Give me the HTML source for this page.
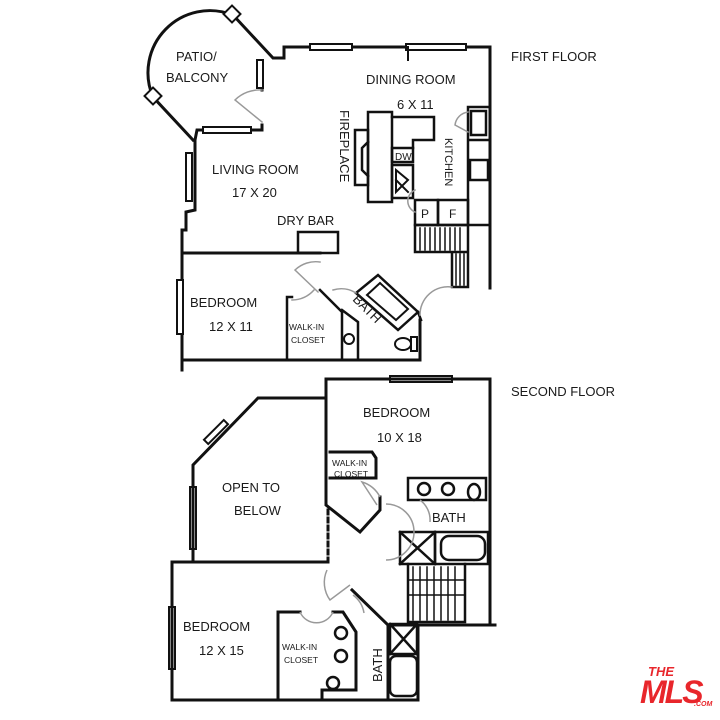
<!DOCTYPE html>
<html><head><meta charset="utf-8"><style>
html,body{margin:0;padding:0;background:#fff;}
svg{display:block}
text{font-family:"Liberation Sans",sans-serif;}
</style></head><body>
<svg width="720" height="720" viewBox="0 0 720 720" xmlns="http://www.w3.org/2000/svg">
<g stroke="#111" stroke-width="3" fill="none" stroke-linecap="square">
<path d="M233,15 L273,58 L273,58 L284,58 L284,47 L490,47 L490,288"/>
<path d="M233,15 A62,62 0 0 0 153,97 L193,140"/>
<path d="M262,62 L262,90"/>
<path d="M262,125 L262,130 L197,130 L195,140 L195,210 L186,212 L186,230 L182,230 L182,360 L420,360 L420,320"/>
<path d="M182,253 L320,253"/>
<path d="M182,360 L182,370"/>
<rect x="226" y="8" width="12" height="12" transform="rotate(45 232 14)" stroke-width="2" fill="#fff"/>
<rect x="147" y="90" width="12" height="12" transform="rotate(45 153 96)" stroke-width="2" fill="#fff"/>
<g stroke-width="2" fill="#fff">
<rect x="310" y="44" width="42" height="6"/>
<rect x="406" y="44" width="60" height="6"/>
<rect x="257" y="60" width="6" height="28"/>
<rect x="203" y="127" width="48" height="6"/>
<rect x="186" y="153" width="6" height="48"/>
<rect x="177" y="280" width="6" height="54"/>
<rect x="390" y="376" width="62" height="6"/>
<rect x="213" y="418" width="6" height="28" transform="rotate(45 216 432)"/>
<rect x="190" y="487" width="6" height="62"/>
<rect x="169" y="607" width="6" height="62"/>
</g>
<path d="M408,47 L408,60" stroke-width="2"/>
<g stroke-width="2.5">
<rect x="368" y="112" width="24" height="90"/>
<path d="M392,117 L434,117 L434,140 L413,140 L413,148"/>
<rect x="355" y="130" width="13" height="55"/>
<path d="M368,142 L362,148 L362,170 L368,176"/>
<rect x="392" y="148" width="21" height="14"/>
<rect x="392" y="165" width="21" height="33"/>
<path d="M396,170 L396,192 L408,180 Z M396,180 L408,192" stroke-width="2"/>
<path d="M468,107 L490,107 M468,107 L468,225 M468,140 L490,140 M468,225 L490,225"/>
<rect x="471" y="111" width="15" height="24"/>
<rect x="470" y="160" width="18" height="20"/>
<rect x="415" y="200" width="23" height="25"/>
<rect x="438" y="200" width="30" height="25"/>
<path d="M415,225 L468,225 L468,252 L415,252 L415,225 M452,252 L452,287 L468,287 L468,252"/>
<path d="M420,228 V250 M425,228 V250 M430,228 V250 M435,228 V250 M440,228 V250 M445,228 V250 M450,228 V250 M455,228 V250 M460,228 V250 M456,254 V285 M460,254 V285 M464,254 V285" stroke-width="1.5"/>
<rect x="298" y="232" width="40" height="21"/>
<path d="M287,360 L287,297 L292,297"/>
<path d="M320,290 L342,312 L342,358 M342,310 L358,322 L358,358"/>
<path d="M378,275 L418,312 L398,330 L356,293 Z"/>
<path d="M380,283 L408,309 L396,320 L367,295 Z" stroke-width="2"/>
<circle cx="349" cy="339" r="5" stroke-width="2"/>
<ellipse cx="403" cy="344" rx="8" ry="6" stroke-width="2"/>
<rect x="411" y="337" width="6" height="14" stroke-width="2"/>
<path d="M418,312 L421,320"/>
</g>
<g stroke="#999" stroke-width="1.5" fill="none">
<path d="M262,90 A35,35 0 0 0 235,100 L262,122"/>
<path d="M320,262 A30,30 0 0 0 295,270 L318,292"/>
<path d="M292,300 A30,30 0 0 0 314,290"/>
<path d="M333,290 A28,28 0 0 1 356,293"/>
<path d="M420,315 A28,28 0 0 1 452,287"/>
<path d="M415,190 A12,12 0 0 0 415,212"/>
<path d="M468,112 A15,15 0 0 0 455,125 L468,132"/>
</g>
</g>
<g stroke="#111" stroke-width="3" fill="none" stroke-linecap="square">
<path d="M326,379 L490,379 L490,625 M486,625 L495,625"/>
<path d="M326,379 L326,505 L360,532 L380,510 L380,497"/>
<path d="M326,398 L258,398 L193,465 L193,562 M172,562 L328,562"/>
<path d="M328,510 L328,562" stroke-dasharray="4,4"/>
<path d="M172,562 L172,700 L418,700 L418,625 L495,625"/>
<path d="M330,452 L372,452 L376,458 L376,478 L330,478"/>
<path d="M278,700 L278,612 L300,612 M333,612 L343,612 L356,632 L356,690 L322,690 L322,700"/>
<path d="M352,590 L388,625 L388,700"/>
<path d="M388,625 L418,625"/>
<g stroke-width="2.5">
<rect x="408" y="478" width="78" height="22"/>
<circle cx="424" cy="489" r="6"/><circle cx="448" cy="489" r="6"/>
<ellipse cx="474" cy="492" rx="6" ry="8"/>
<rect x="400" y="532" width="35" height="32"/>
<path d="M400,532 L435,564 M435,532 L400,564"/>
<rect x="435" y="532" width="53" height="32"/>
<rect x="441" y="536" width="44" height="24" rx="8"/>
<path d="M408,564 L408,622 L465,622 L465,564"/>
<rect x="390" y="624" width="27" height="30"/>
<path d="M390,624 L417,654 M417,624 L390,654"/>
<rect x="390" y="656" width="27" height="40" rx="6"/>
<circle cx="341" cy="633" r="6"/><circle cx="341" cy="656" r="6"/>
<ellipse cx="333" cy="683" rx="6" ry="6"/>
</g>
<path d="M413,567 V620 M420,567 V620 M427,567 V620 M434,567 V620 M441,567 V620 M448,567 V620 M455,567 V620 M408,580 H465 M408,595 H465" stroke-width="1.5"/>
</g>
<g stroke="#999" stroke-width="1.5" fill="none">
<path d="M380,497 A30,30 0 0 0 362,482 L377,505"/>
<path d="M386,504 A28,28 0 0 1 386,560"/>
<path d="M327,570 A30,30 0 0 0 330,600 L350,585"/>
<path d="M353,595 A28,28 0 0 1 364,613"/>
<path d="M300,612 A18,18 0 0 0 333,612"/>
<path d="M420,500 A25,25 0 0 1 430,522"/>
</g>
<g font-size="13" fill="#1a1a1a" stroke="none">
<text x="176" y="61">PATIO/</text>
<text x="166" y="82">BALCONY</text>
<text x="366" y="84">DINING ROOM</text>
<text x="397" y="109">6 X 11</text>
<text x="212" y="174">LIVING ROOM</text>
<text x="232" y="197">17 X 20</text>
<text x="277" y="225">DRY BAR</text>
<text x="190" y="307">BEDROOM</text>
<text x="209" y="331">12 X 11</text>
<text x="511" y="61">FIRST FLOOR</text>
<text x="511" y="396">SECOND FLOOR</text>
<text x="363" y="417">BEDROOM</text>
<text x="377" y="442">10 X 18</text>
<text x="222" y="492">OPEN TO</text>
<text x="234" y="515">BELOW</text>
<text x="432" y="522">BATH</text>
<text x="183" y="631">BEDROOM</text>
<text x="199" y="655">12 X 15</text>
<g font-size="8.5">
<text x="289" y="330">WALK-IN</text>
<text x="291" y="343">CLOSET</text>
<text x="332" y="466">WALK-IN</text>
<text x="334" y="477">CLOSET</text>
<text x="282" y="650">WALK-IN</text>
<text x="284" y="663">CLOSET</text>
<text x="395" y="160" font-size="10">DW</text>
</g>
<text x="421" y="218" font-size="12">P</text>
<text x="449" y="218" font-size="12">F</text>
<text font-size="13" transform="translate(340,110) rotate(90)">FIREPLACE</text>
<text font-size="11" transform="translate(445,138) rotate(90)">KITCHEN</text>
<text font-size="13" transform="translate(352,300) rotate(45)">BATH</text>
<text font-size="13" transform="translate(382,682) rotate(-90)">BATH</text>
</g>
<g style="fill:#e8262b" font-weight="bold" font-style="italic">
<text x="648" y="676" font-size="13" style="fill:#e8262b">THE</text>
<text x="640" y="703" font-size="32" letter-spacing="-2" style="fill:#e8262b">MLS</text>
<text x="694" y="706" font-size="7" style="fill:#e8262b">.COM</text>
</g>
</svg>
</body></html>
